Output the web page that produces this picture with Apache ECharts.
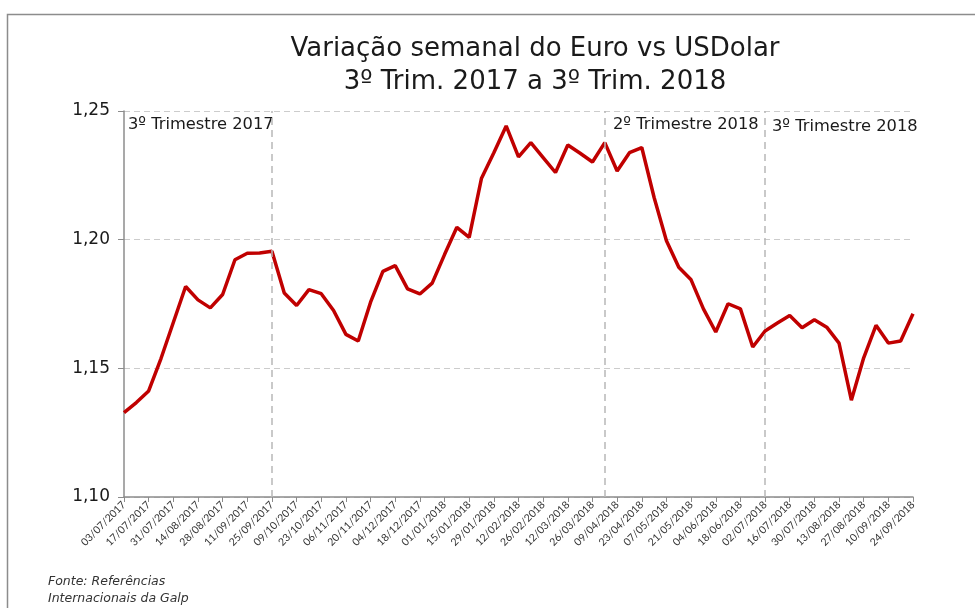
<!DOCTYPE html>
<html><head><meta charset="utf-8">
<script src="https://cdn.jsdelivr.net/npm/echarts@6/dist/echarts.min.js"></script>
<style>html,body{margin:0;padding:0;background:#fff}#c{width:975px;height:608px}</style>
</head><body><div id="c"></div>
<script>
const categories = ["03/07/2017","10/07/2017","17/07/2017","24/07/2017","31/07/2017","07/08/2017","14/08/2017","21/08/2017","28/08/2017","04/09/2017","11/09/2017","18/09/2017","25/09/2017","02/10/2017","09/10/2017","16/10/2017","23/10/2017","30/10/2017","06/11/2017","13/11/2017","20/11/2017","27/11/2017","04/12/2017","11/12/2017","18/12/2017","25/12/2017","01/01/2018","08/01/2018","15/01/2018","22/01/2018","29/01/2018","05/02/2018","12/02/2018","19/02/2018","26/02/2018","05/03/2018","12/03/2018","19/03/2018","26/03/2018","02/04/2018","09/04/2018","16/04/2018","23/04/2018","30/04/2018","07/05/2018","14/05/2018","21/05/2018","28/05/2018","04/06/2018","11/06/2018","18/06/2018","25/06/2018","02/07/2018","09/07/2018","16/07/2018","23/07/2018","30/07/2018","06/08/2018","13/08/2018","20/08/2018","27/08/2018","03/09/2018","10/09/2018","17/09/2018","24/09/2018"];
const eurUsd = [1.1328,1.1367,1.1412,1.1538,1.1678,1.1818,1.1766,1.1735,1.1787,1.1922,1.1947,1.1948,1.1955,1.1793,1.1744,1.1806,1.1790,1.1725,1.1632,1.1606,1.1757,1.1877,1.1899,1.1809,1.1789,1.1831,1.1942,1.2048,1.2009,1.2239,1.2338,1.2442,1.2322,1.2377,1.2319,1.2261,1.2368,1.2336,1.2302,1.2377,1.2267,1.2338,1.2358,1.2164,1.1996,1.1893,1.1844,1.1731,1.1641,1.1751,1.1731,1.1583,1.1645,1.1676,1.1705,1.1658,1.1689,1.1660,1.1598,1.1376,1.1541,1.1667,1.1598,1.1606,1.1712];
const quarterLines = ["25/09/2017","02/04/2018","02/07/2018"];
const quarterLabels = ["3º Trimestre 2017","2º Trimestre 2018","3º Trimestre 2018"];
const yTicks = {min:1.10, max:1.25, interval:0.05};
const titleLines = ["Variação semanal do Euro vs USDolar","3º Trim. 2017 a 3º Trim. 2018"];
const sourceText = ["Fonte: Referências","Internacionais da Galp"];

const FONT = "Lato";
const TFONT = "DejaVu Sans";
const chart = echarts.init(document.getElementById('c'), null, {renderer:'canvas'});
chart.setOption({
  animation:false,
  backgroundColor:'#fff',
  title:{
    text: titleLines.join('\n'),
    left: 530, textAlign:'center', top: 28,
    textStyle:{fontFamily:TFONT, fontSize:26, fontWeight:'normal', color:'#1a1a1a', lineHeight:33}
  },
  grid:{left:124, right:62, top:111, bottom:111, containLabel:false},
  xAxis:{
    type:'category', data:categories, boundaryGap:false,
    axisLine:{lineStyle:{color:'#8c8c8c', width:1.5}},
    axisTick:{show:true, interval:1, length:5, lineStyle:{color:'#8c8c8c', width:1}},
    axisLabel:{interval:1, rotate:45, fontFamily:FONT, fontSize:10.5, color:'#333', margin:6},
    splitLine:{show:false}
  },
  yAxis:{
    type:'value', min:yTicks.min, max:yTicks.max, interval:yTicks.interval,
    axisLine:{show:true, lineStyle:{color:'#8c8c8c', width:1.5}},
    axisTick:{show:true, length:6, lineStyle:{color:'#8c8c8c'}},
    axisLabel:{fontFamily:TFONT, fontSize:17, color:'#1a1a1a', margin:14,
      formatter:v=>v.toFixed(2).replace('.',',')},
    splitLine:{show:true, lineStyle:{color:'#cccccc', type:[6,4], width:1.2}}
  },
  series:[{
    type:'line', data:eurUsd, symbol:'none',
    lineStyle:{color:'#c00000', width:3.5},
    markLine:{
      silent:true, symbol:'none',
      lineStyle:{color:'#b8b8b8', type:[7,5], width:1.5},
      label:{show:false},
      data: quarterLines.map(d=>({xAxis:d}))
    },
    z:3
  }],
  graphic:[
    {type:'rect', left:5, top:12, shape:{width:1100, height:800}, style:{fill:'none', stroke:'#8c8c8c', lineWidth:1.5}, silent:true},
    {type:'text', left:128, top:117, style:{text:quarterLabels[0], font:'16.3px "'+TFONT+'"', fill:'#1a1a1a'}},
    {type:'text', left:613, top:117, style:{text:quarterLabels[1], font:'16.3px "'+TFONT+'"', fill:'#1a1a1a'}},
    {type:'text', left:772, top:119, style:{text:quarterLabels[2], font:'16.3px "'+TFONT+'"', fill:'#1a1a1a'}},
    {type:'text', left:48, top:575, style:{text:sourceText[0], font:'italic 12.5px "'+TFONT+'"', fill:'#333'}},
    {type:'text', left:48, top:592, style:{text:sourceText[1], font:'italic 12.5px "'+TFONT+'"', fill:'#333'}}
  ]
});
</script></body></html>
